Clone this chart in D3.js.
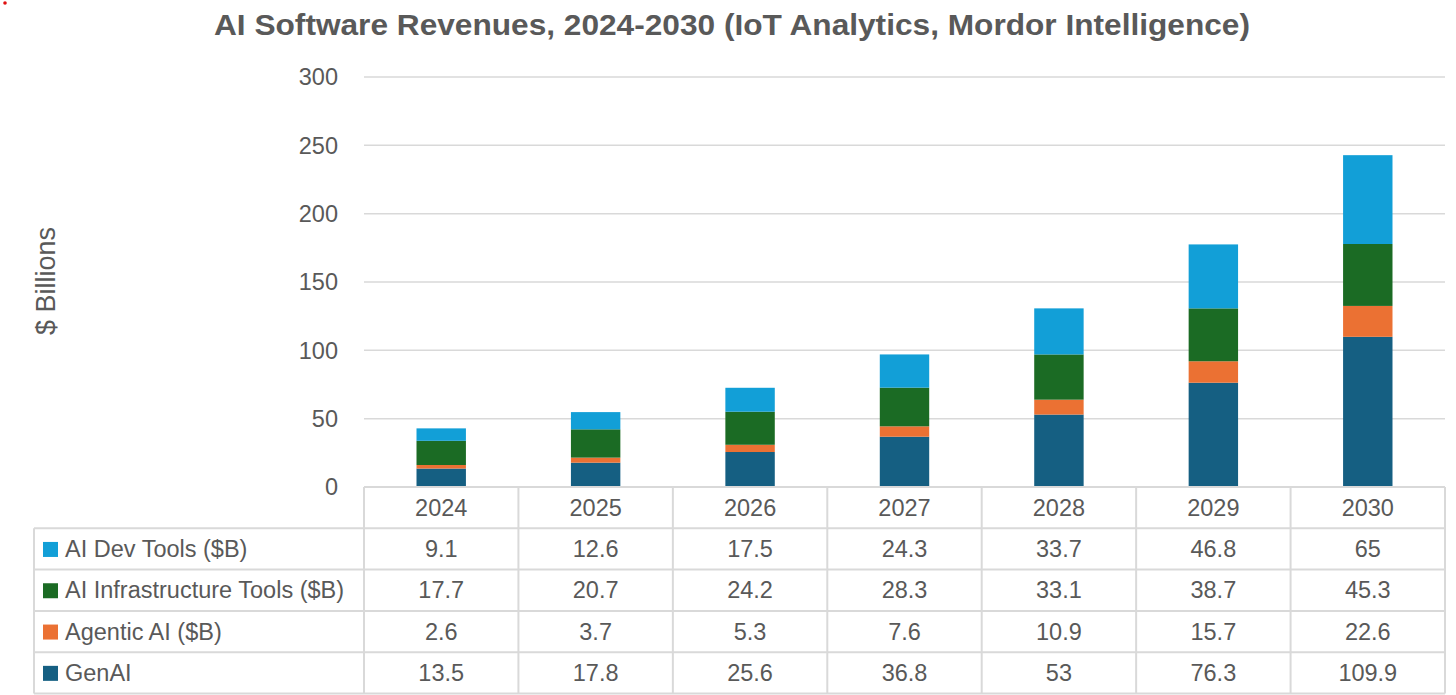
<!DOCTYPE html>
<html>
<head>
<meta charset="utf-8">
<script src="https://cdn.jsdelivr.net/npm/d3@7"></script>
<style>
  body { margin: 0; background: #fff; }
  text { font-family: "Liberation Sans", Arial, sans-serif; fill: #595959; }
</style>
</head>
<body>
<div class="chart"></div>
<script>
var years = ["2024", "2025", "2026", "2027", "2028", "2029", "2030"];
var devTools = [9.1, 12.6, 17.5, 24.3, 33.7, 46.8, 65];
var infraTools = [17.7, 20.7, 24.2, 28.3, 33.1, 38.7, 45.3];
var agentic = [2.6, 3.7, 5.3, 7.6, 10.9, 15.7, 22.6];
var genAI = [13.5, 17.8, 25.6, 36.8, 53, 76.3, 109.9];
var seriesNames = ["AI Dev Tools ($B)", "AI Infrastructure Tools ($B)", "Agentic AI ($B)", "GenAI"];
var seriesColors = ["#129fd7", "#1b6b24", "#eb7133", "#155f82"];
var yTicks = [0, 50, 100, 150, 200, 250, 300];

var width = 1456, height = 695;
var plotLeft = 364, plotRight = 1445, plotTop = 77, plotBottom = 487;
var tableLeft = 34, rowH = 41.3;

var svg = d3.select(".chart").append("svg")
  .attr("width", width)
  .attr("height", height);

// tiny red dot in the corner of the original
svg.append("circle").attr("cx", 5).attr("cy", 3).attr("r", 1.8).attr("fill", "#e01010");

// title
svg.append("text")
  .attr("x", 732)
  .attr("y", 35)
  .attr("text-anchor", "middle")
  .attr("textLength", 1036)
  .attr("lengthAdjust", "spacingAndGlyphs")
  .style("font-size", "30px")
  .style("font-weight", "bold")
  .text("AI Software Revenues, 2024-2030 (IoT Analytics, Mordor Intelligence)");

var x = d3.scaleBand().domain(years).range([plotLeft, plotRight]).padding(0);
var y = d3.scaleLinear().domain([0, 300]).range([plotBottom, plotTop]);

// gridlines
svg.append("g").selectAll("line")
  .data(yTicks.filter(function(t) { return t > 0; }))
  .enter().append("line")
  .attr("x1", plotLeft).attr("x2", plotRight)
  .attr("y1", function(d) { return y(d); })
  .attr("y2", function(d) { return y(d); })
  .attr("stroke", "#d9d9d9").attr("stroke-width", 1.5);

// y axis labels
svg.append("g").selectAll("text")
  .data(yTicks)
  .enter().append("text")
  .attr("x", 338)
  .attr("y", function(d) { return y(d); })
  .attr("dy", "0.35em")
  .attr("text-anchor", "end")
  .style("font-size", "23.5px")
  .text(function(d) { return d; });

svg.append("text")
  .attr("transform", "translate(55,281) rotate(-90)")
  .attr("text-anchor", "middle")
  .style("font-size", "27px")
  .text("$ Billions");

// stacked bars
var rows = years.map(function(yr, i) {
  return { year: yr, GenAI: genAI[i], Agentic: agentic[i], Infra: infraTools[i], Dev: devTools[i] };
});
var keys = ["GenAI", "Agentic", "Infra", "Dev"];
var keyColor = { GenAI: seriesColors[3], Agentic: seriesColors[2], Infra: seriesColors[1], Dev: seriesColors[0] };
var stacked = d3.stack().keys(keys)(rows);
var barW = x.bandwidth() * 0.32;

svg.append("g").selectAll("g")
  .data(stacked)
  .enter().append("g")
  .attr("fill", function(d) { return keyColor[d.key]; })
  .selectAll("rect")
  .data(function(d) { return d; })
  .enter().append("rect")
  .attr("x", function(d) { return x(d.data.year) + (x.bandwidth() - barW) / 2; })
  .attr("y", function(d) { return y(d[1]); })
  .attr("width", barW)
  .attr("height", function(d) { return y(d[0]) - y(d[1]); });

// data table
var tableRows = [devTools, infraTools, agentic, genAI];
var tableBottom = plotBottom + rowH * 5;
var grid = svg.append("g").attr("stroke", "#d9d9d9").attr("stroke-width", 2);

// horizontal lines
grid.append("line").attr("x1", plotLeft).attr("x2", plotRight)
  .attr("y1", plotBottom).attr("y2", plotBottom);
for (var r = 1; r <= 5; r++) {
  grid.append("line").attr("x1", tableLeft).attr("x2", plotRight)
    .attr("y1", plotBottom + rowH * r).attr("y2", plotBottom + rowH * r);
}
// vertical lines
grid.append("line").attr("x1", tableLeft).attr("x2", tableLeft)
  .attr("y1", plotBottom + rowH).attr("y2", tableBottom);
years.forEach(function(yr) {
  grid.append("line").attr("x1", x(yr)).attr("x2", x(yr))
    .attr("y1", plotBottom).attr("y2", tableBottom);
});
grid.append("line").attr("x1", plotRight).attr("x2", plotRight)
  .attr("y1", plotBottom).attr("y2", tableBottom);

// header years
svg.append("g").selectAll("text")
  .data(years)
  .enter().append("text")
  .attr("x", function(d) { return x(d) + x.bandwidth() / 2; })
  .attr("y", plotBottom + rowH / 2)
  .attr("dy", "0.35em")
  .attr("text-anchor", "middle")
  .style("font-size", "23.5px")
  .text(function(d) { return d; });

// legend cells
tableRows.forEach(function(vals, ri) {
  var cy = plotBottom + rowH * (ri + 1) + rowH / 2;
  svg.append("rect")
    .attr("x", 43).attr("y", cy - 7)
    .attr("width", 15).attr("height", 15)
    .attr("fill", seriesColors[ri]);
  svg.append("text")
    .attr("x", 65).attr("y", cy)
    .attr("dy", "0.35em")
    .style("font-size", "23.5px")
    .text(seriesNames[ri]);
  svg.append("g").selectAll("text")
    .data(vals)
    .enter().append("text")
    .attr("x", function(d, i) { return x(years[i]) + x.bandwidth() / 2; })
    .attr("y", cy)
    .attr("dy", "0.35em")
    .attr("text-anchor", "middle")
    .style("font-size", "23.5px")
    .text(function(d) { return d; });
});
</script>
</body>
</html>
